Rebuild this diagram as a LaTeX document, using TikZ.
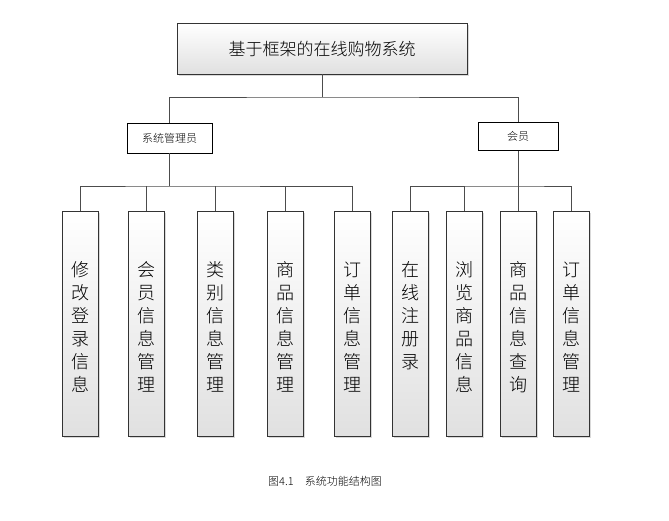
\documentclass[tikz,border=0pt]{standalone}
\usepackage{fontspec}
\setmainfont{Noto Sans CJK SC Light}
\usetikzlibrary{shadows}
\begin{document}
\begin{tikzpicture}[x=1pt,y=-1pt,
  gbox/.style={draw=black!80,line width=0.7pt,top color=white,bottom color=black!12,drop shadow={shadow xshift=1.5pt,shadow yshift=-1.5pt,opacity=0.3},inner sep=0},
  wire/.style={draw=black!70,line width=1pt}]
\useasboundingbox (0,0) rectangle (669,520);
\node[gbox,minimum width=290,minimum height=51,font=\fontsize{17}{19}\selectfont] (root) at (322,48.5) {基于框架的在线购物系统};
\node[draw=black,line width=0.7pt,fill=white,minimum width=85,minimum height=30,font=\fontsize{11}{12}\selectfont] (adm) at (169.5,138) {系统管理员};
\node[draw=black,line width=0.7pt,fill=white,minimum width=80,minimum height=28,font=\fontsize{11}{12}\selectfont] (mem) at (518,136.5) {会员};
\draw[wire] (root.south) -- (322,97) coordinate (j);
\draw[wire] (adm.north) |- (j) -| (mem.north);
\foreach \n/\x/\t in {a1/80/修\\改\\登\\录\\信\\息, a2/146/会\\员\\信\\息\\管\\理, a3/215/类\\别\\信\\息\\管\\理, a4/285/商\\品\\信\\息\\管\\理, a5/352/订\\单\\信\\息\\管\\理, b1/410/在\\线\\注\\册\\录, b2/464/浏\\览\\商\\品\\信\\息, b3/518/商\\品\\信\\息\\查\\询, b4/571/订\\单\\信\\息\\管\\理}{
  \node[gbox,minimum width=36,minimum height=225] (\n) at (\x,323.5) {};
  \node[align=center,anchor=north,font=\fontsize{18}{23}\selectfont] at (\x,258) {\t};
}
\coordinate (ab) at (169.5,186);
\coordinate (bb) at (518,186);
\draw[wire] (adm.south) -- (ab);
\draw[wire] (mem.south) -- (bb);
\draw[wire] (a1.north) |- (ab) -| (a5.north);
\foreach \n in {a2,a3,a4} \draw[wire] (\n.north) -- (\n.north |- ab);
\draw[wire] (b1.north) |- (bb) -| (b4.north);
\foreach \n in {b2,b3} \draw[wire] (\n.north) -- (\n.north |- bb);
\node[font=\fontsize{11}{12}\selectfont] (cap) at (325,481) {图4.1\quad 系统功能结构图};
\end{tikzpicture}
\end{document}
